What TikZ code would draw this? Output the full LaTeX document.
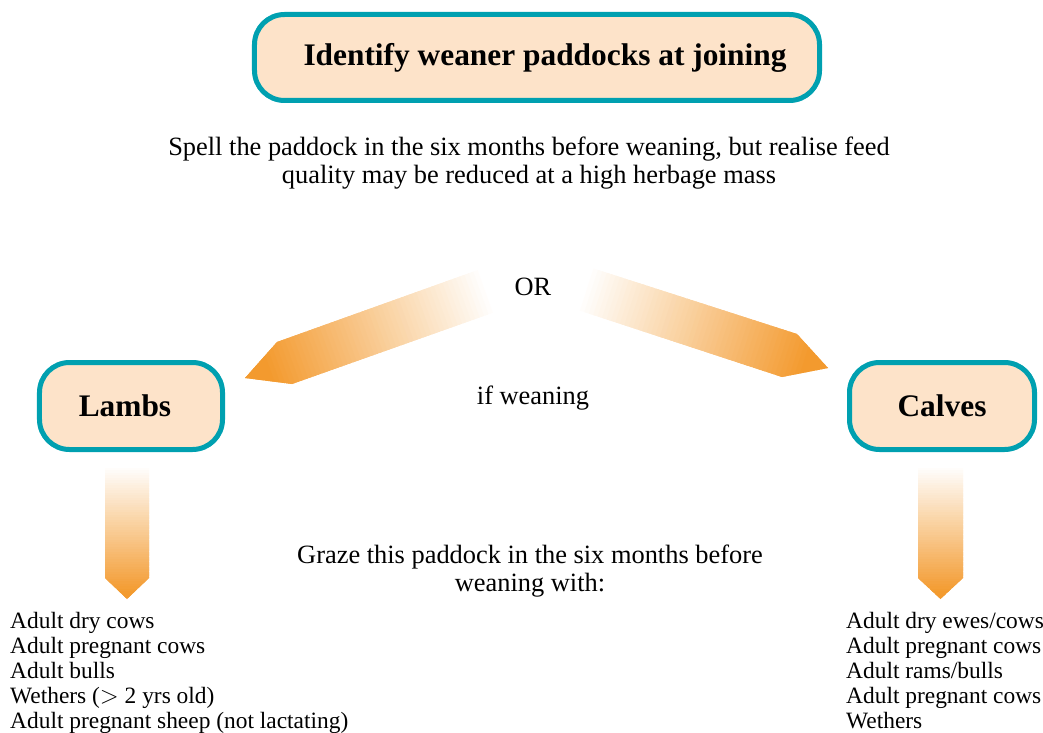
\documentclass[tikz,border=0pt]{standalone}
\usepackage{fontspec}
\setmainfont{Liberation Serif}
\usetikzlibrary{calc}
\definecolor{teal}{HTML}{00A0B0}
\definecolor{peach}{HTML}{FDE3C9}
\definecolor{arrorange}{HTML}{F39A2E}
% #1 clip path, #2 tail point, #3 far point on axis, #4 percent per strip
\newcommand\fadearrow[4]{%
  \begin{scope}
    \clip #1;
    \foreach \i in {0,...,59} {
      \pgfmathsetmacro\ta{\i/60-0.01}
      \pgfmathsetmacro\tb{(\i+1)/60+0.004}
      \pgfmathsetmacro\pc{min(100,max(0,\i*#4))}
      \fill[arrorange!\pc!white]
        ($(#2)!\ta!(#3)!80bp!90:(#3)$) -- ($(#2)!\ta!(#3)!80bp!-90:(#3)$) --
        ($(#2)!\tb!(#3)!80bp!-90:(#3)$) -- ($(#2)!\tb!(#3)!80bp!90:(#3)$) -- cycle;
    }
  \end{scope}}
\begin{document}
\begin{tikzpicture}[x=1bp,y=-1bp,
  box/.style={draw=teal, line width=5bp, fill=peach, rounded corners=30bp, inner sep=0pt,
    font=\fontsize{31.5}{36}\selectfont\bfseries},
  body/.style={align=center, font=\fontsize{26.5}{28}\selectfont},
  listtxt/.style={align=left, anchor=north west, inner sep=0pt, font=\fontsize{23.5}{25}\selectfont}
]
\useasboundingbox (0,0) rectangle (1043,733);

\node[box, minimum width=565bp, minimum height=86bp] (title) at (537,57.5) {\hspace*{16bp}Identify weaner paddocks at joining};
\node[body] (spell) at (529,163) {Spell the paddock in the six months before weaning, but realise feed\\quality may be reduced at a high herbage mass};

\node[body] (or) at (533,287) {OR};
\node[body] (ifw) at (533,398) {if weaning};

\node[box, minimum width=183bp, minimum height=87bp] (lambs) at (131,406) {Lambs\hspace*{12bp}};
\node[box, minimum width=185bp, minimum height=87bp] (calves) at (942,406) {Calves};

% axis points of the fat arrows
\coordinate (lt) at (487,291);  \coordinate (lh) at (223.4,385.4);
\coordinate (rt) at (585,289);  \coordinate (rh) at (851.5,374.8);
\coordinate (vlt) at (127,467); \coordinate (vlh) at (127,615);
\coordinate (vrt) at (940.5,467); \coordinate (vrh) at (940.5,615);

\fadearrow{(478,270) -- (277,342) -- (245,378) -- (292,384) -- (495,312) -- cycle}{lt}{lh}{2.0}
\fadearrow{(592,268) -- (797,334) -- (828,368) -- (782,377) -- (578,310) -- cycle}{rt}{rh}{2.0}
\fadearrow{(105,467) -- (149,467) -- (149,578) -- (127,599) -- (105,578) -- cycle}{vlt}{vlh}{1.95}
\fadearrow{(918,467) -- (963,467) -- (963,578) -- (940.5,599) -- (918,578) -- cycle}{vrt}{vrh}{1.95}

\node[body] (graze) at (530,571) {Graze this paddock in the six months before\\weaning with:};

\node[listtxt] (llist) at (10,612) {Adult dry cows\\Adult pregnant cows\\Adult bulls\\Wethers ($>$ 2 yrs old)\\Adult pregnant sheep (not lactating)};
\node[listtxt] (rlist) at (846,612) {Adult dry ewes/cows\\Adult pregnant cows\\Adult rams/bulls\\Adult pregnant cows\\Wethers};
\end{tikzpicture}
\end{document}
